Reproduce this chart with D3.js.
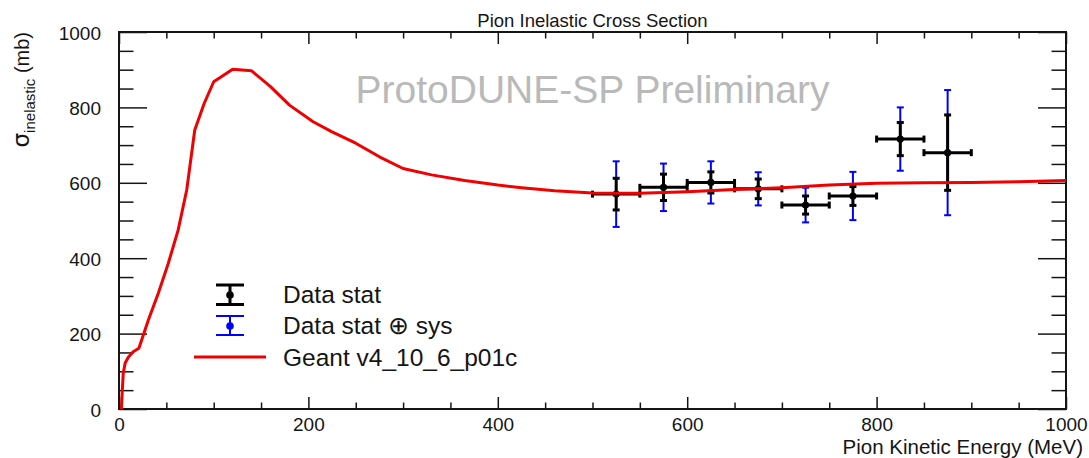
<!DOCTYPE html>
<html><head><meta charset="utf-8">
<script src="https://cdn.jsdelivr.net/npm/d3@7"></script>
<style>
body{margin:0;background:#fff;}
svg{display:block;font-family:"Liberation Sans",Arial,Helvetica,sans-serif;}
</style>
</head><body>
<svg id="chart" width="1089" height="458"></svg>
<script>
// ---- data ----
const geantE  = [2.5, 3.5, 4.5, 6.5, 10, 15, 21, 31, 41.5, 52, 62.5, 71.5, 80, 90, 100, 120, 140, 160, 180, 205, 225, 250, 275, 300, 330, 365, 400, 425, 460, 500, 550, 600, 650, 700, 750, 800, 850, 900, 950, 1000];
const geantXS = [0, 50, 95, 122, 138, 152, 161, 236, 307, 386, 475, 581, 740, 811, 868, 901, 897, 855, 806, 762, 735, 705, 669, 638, 621, 606, 594, 587, 579, 573, 572, 576, 582, 587, 594, 599, 600, 601, 603, 606];

const binLow     = [500, 550, 600, 650, 700, 750, 800, 850];
const binHigh    = [550, 600, 650, 700, 750, 800, 850, 900];
const binCenter  = [525, 575, 625, 675, 725, 775, 825, 875];
const xsValue    = [570, 588, 601, 584, 541, 565, 716, 680];
const statErr    = [42, 35, 28, 26, 24, 25, 44, 100];
const totalErr   = [87, 63, 56, 44, 46, 64, 84, 166];

const xMajorTicks = [0, 200, 400, 600, 800, 1000];
const yMajorTicks = [0, 200, 400, 600, 800, 1000];
const minorStep = 50;

const titleText = "Pion Inelastic Cross Section";
const xTitle = "Pion Kinetic Energy (MeV)";
const watermark = "ProtoDUNE-SP Preliminary";
const legendLabels = ["Data stat", "Data stat \u2295 sys", "Geant v4_10_6_p01c"];

// ---- layout ----
const L = 119, R = 1066, T = 32, B = 409;
const svg = d3.select("#chart");
const x = d3.scaleLinear().domain([0, 1000]).range([L, R]);
const y = d3.scaleLinear().domain([0, 1000]).range([B, T]);
const ink = "#151515";

const minorX = d3.range(0, 1001, minorStep).filter(v => !xMajorTicks.includes(v));
const minorY = d3.range(0, 1001, minorStep).filter(v => !yMajorTicks.includes(v));

function styleTicks(g, w) {
  g.select(".domain").remove();
  g.selectAll("line").attr("stroke", ink).attr("stroke-width", w);
}

// bottom axis (ticks inward)
const gb = svg.append("g").attr("transform", `translate(0,${B})`)
  .call(d3.axisBottom(x).tickValues(xMajorTicks).tickSizeInner(-12).tickSizeOuter(0).tickPadding(9).tickFormat(d3.format("d")));
styleTicks(gb, 1.5);
gb.selectAll("text").attr("font-size", 19).attr("fill", ink).attr("font-family", "Liberation Sans, Arial, sans-serif");
const gbm = svg.append("g").attr("transform", `translate(0,${B})`)
  .call(d3.axisBottom(x).tickValues(minorX).tickSizeInner(-6.5).tickSizeOuter(0).tickFormat(""));
styleTicks(gbm, 1.5);

// top axis ticks
const gt = svg.append("g").attr("transform", `translate(0,${T})`)
  .call(d3.axisTop(x).tickValues(xMajorTicks).tickSizeInner(-12).tickSizeOuter(0).tickFormat(""));
styleTicks(gt, 1.5);
const gtm = svg.append("g").attr("transform", `translate(0,${T})`)
  .call(d3.axisTop(x).tickValues(minorX).tickSizeInner(-6.5).tickSizeOuter(0).tickFormat(""));
styleTicks(gtm, 1.5);

// left axis
const gl = svg.append("g").attr("transform", `translate(${L},0)`)
  .call(d3.axisLeft(y).tickValues(yMajorTicks).tickSizeInner(-28).tickSizeOuter(0).tickPadding(18).tickFormat(d3.format("d")));
styleTicks(gl, 1.5);
gl.selectAll("text").attr("font-size", 19).attr("fill", ink).attr("dy", "0.37em").attr("font-family", "Liberation Sans, Arial, sans-serif");
const glm = svg.append("g").attr("transform", `translate(${L},0)`)
  .call(d3.axisLeft(y).tickValues(minorY).tickSizeInner(-14.5).tickSizeOuter(0).tickFormat(""));
styleTicks(glm, 1.5);

// right axis ticks
const gr = svg.append("g").attr("transform", `translate(${R},0)`)
  .call(d3.axisRight(y).tickValues(yMajorTicks).tickSizeInner(-28).tickSizeOuter(0).tickFormat(""));
styleTicks(gr, 1.5);
const grm = svg.append("g").attr("transform", `translate(${R},0)`)
  .call(d3.axisRight(y).tickValues(minorY).tickSizeInner(-14.5).tickSizeOuter(0).tickFormat(""));
styleTicks(grm, 1.5);

// frame
svg.append("rect").attr("x", L).attr("y", T).attr("width", R - L).attr("height", B - T)
  .attr("fill", "none").attr("stroke", ink).attr("stroke-width", 2);

// title
svg.append("text").attr("x", (L + R) / 2).attr("y", 26.5).attr("text-anchor", "middle")
  .attr("font-size", 18.5).attr("fill", ink).text(titleText);

// watermark
svg.append("text").attr("x", (L + R) / 2).attr("y", 103).attr("text-anchor", "middle")
  .attr("font-size", 39).attr("fill", "#b9b9b9").text(watermark);

// x title
svg.append("text").attr("x", 1083).attr("y", 454).attr("text-anchor", "end")
  .attr("font-size", 20.5).attr("fill", ink).text(xTitle);

// y title
const yt = svg.append("text").attr("transform", `translate(29,${T}) rotate(-90)`)
  .attr("text-anchor", "end").attr("font-size", 20).attr("fill", ink);
yt.append("tspan").attr("font-size", 23).attr("font-family", "DejaVu Sans, sans-serif").text("\u03c3");
yt.append("tspan").attr("font-size", 15).attr("dy", 6).text("inelastic");
yt.append("tspan").attr("dy", -6).text(" (mb)");

// data points
const pts = d3.range(binCenter.length).map(i => ({
  lo: binLow[i], hi: binHigh[i], c: binCenter[i], v: xsValue[i], s: statErr[i], t: totalErr[i]
}));
const cap = 3.5;
const gd = svg.append("g");
// total (blue)
const blue = gd.append("g").attr("stroke", "#0000ff").attr("stroke-width", 2);
pts.forEach(p => {
  blue.append("line").attr("x1", x(p.c)).attr("x2", x(p.c)).attr("y1", y(p.v - p.t)).attr("y2", y(p.v + p.t));
  blue.append("line").attr("x1", x(p.c) - cap).attr("x2", x(p.c) + cap).attr("y1", y(p.v - p.t)).attr("y2", y(p.v - p.t));
  blue.append("line").attr("x1", x(p.c) - cap).attr("x2", x(p.c) + cap).attr("y1", y(p.v + p.t)).attr("y2", y(p.v + p.t));
});
// stat (black)
const blk = gd.append("g").attr("stroke", "#000").attr("stroke-width", 3);
pts.forEach(p => {
  blk.append("line").attr("x1", x(p.c)).attr("x2", x(p.c)).attr("y1", y(p.v - p.s)).attr("y2", y(p.v + p.s));
  blk.append("line").attr("x1", x(p.c) - cap).attr("x2", x(p.c) + cap).attr("y1", y(p.v - p.s)).attr("y2", y(p.v - p.s));
  blk.append("line").attr("x1", x(p.c) - cap).attr("x2", x(p.c) + cap).attr("y1", y(p.v + p.s)).attr("y2", y(p.v + p.s));
  blk.append("line").attr("x1", x(p.lo)).attr("x2", x(p.hi)).attr("y1", y(p.v)).attr("y2", y(p.v));
  blk.append("line").attr("x1", x(p.lo)).attr("x2", x(p.lo)).attr("y1", y(p.v) - cap).attr("y2", y(p.v) + cap);
  blk.append("line").attr("x1", x(p.hi)).attr("x2", x(p.hi)).attr("y1", y(p.v) - cap).attr("y2", y(p.v) + cap);
});
gd.selectAll("circle.m").data(pts).join("circle").attr("class", "m")
  .attr("cx", d => x(d.c)).attr("cy", d => y(d.v)).attr("r", 3.6).attr("fill", "#000");

// Geant curve
const line = d3.line().x(d => x(d[0])).y(d => y(d[1]));
svg.append("path").datum(d3.zip(geantE, geantXS)).attr("d", line)
  .attr("fill", "none").attr("stroke", "#f00000").attr("stroke-width", 3).attr("stroke-linejoin", "round");

// legend
const lg = svg.append("g");
const sx = 230, half = 14;
// black entry
lg.append("line").attr("x1", sx).attr("x2", sx).attr("y1", 285).attr("y2", 304.5).attr("stroke", "#000").attr("stroke-width", 3);
[285, 304.5].forEach(v => lg.append("line").attr("x1", sx - half).attr("x2", sx + half).attr("y1", v).attr("y2", v).attr("stroke", "#000").attr("stroke-width", 3));
lg.append("circle").attr("cx", sx).attr("cy", 295).attr("r", 3.8).attr("fill", "#000");
// blue entry
lg.append("line").attr("x1", sx).attr("x2", sx).attr("y1", 316).attr("y2", 335).attr("stroke", "#0000ff").attr("stroke-width", 2);
[316, 335].forEach(v => lg.append("line").attr("x1", sx - half).attr("x2", sx + half).attr("y1", v).attr("y2", v).attr("stroke", "#0000ff").attr("stroke-width", 2));
lg.append("circle").attr("cx", sx).attr("cy", 326).attr("r", 3.8).attr("fill", "#0000ff");
// red entry
lg.append("line").attr("x1", 194).attr("x2", 266).attr("y1", 357).attr("y2", 357).attr("stroke", "#f00000").attr("stroke-width", 3);
const lgy = [302.5, 334, 365.5];
legendLabels.forEach((t, i) => lg.append("text").attr("x", 283).attr("y", lgy[i]).attr("font-size", 24.5).attr("fill", ink).text(t));
</script>
</body></html>
